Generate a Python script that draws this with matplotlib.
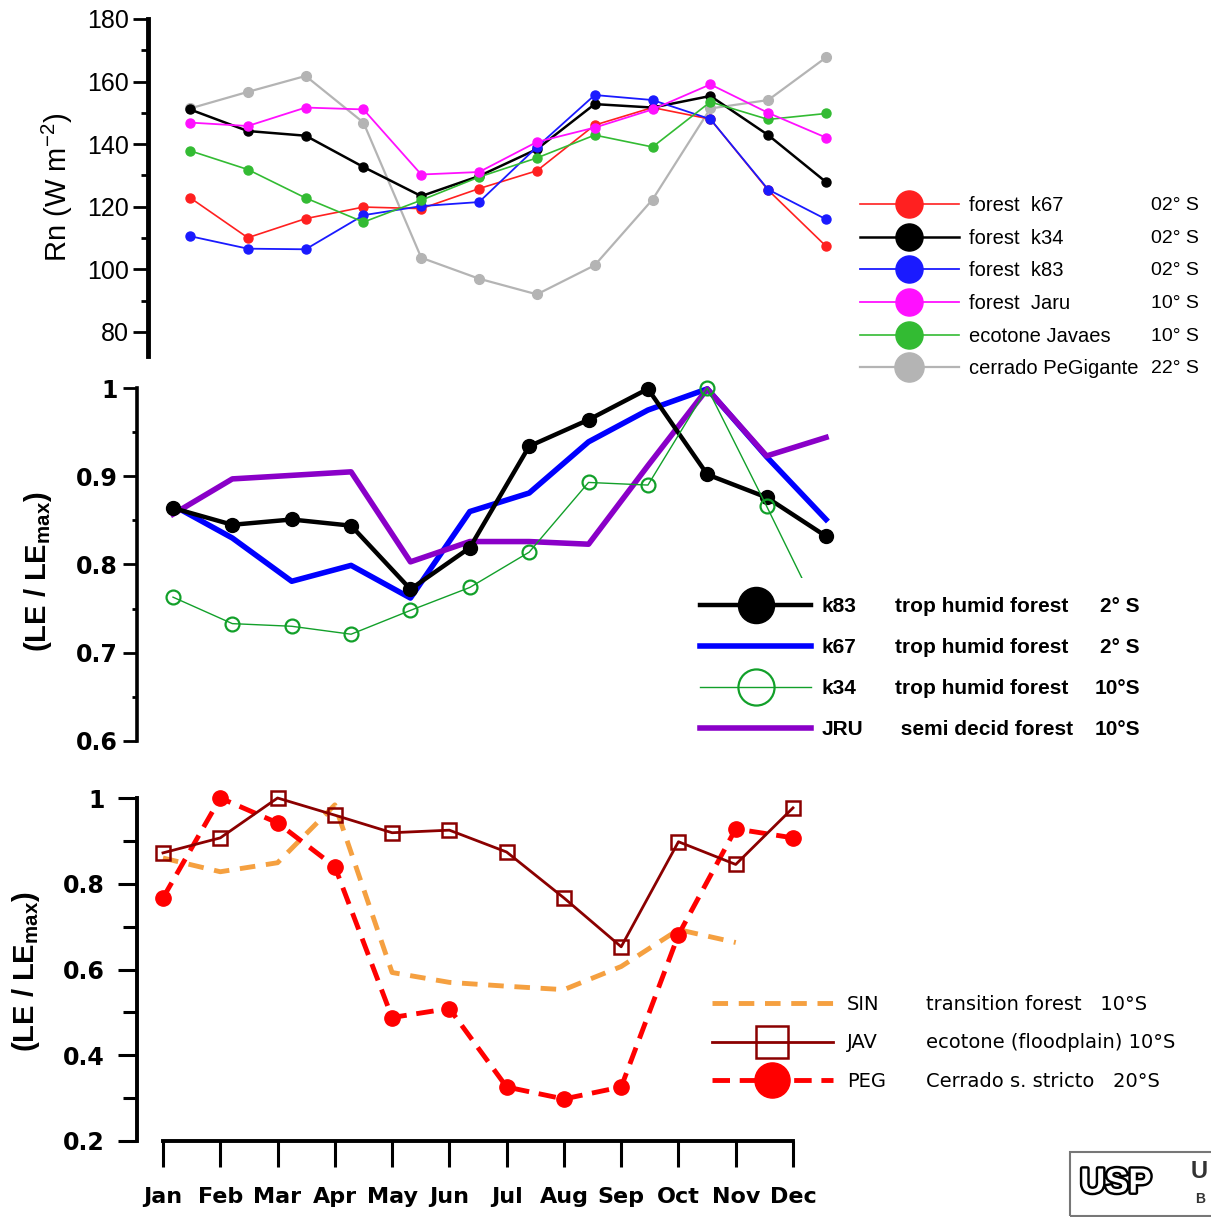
import numpy as np
import matplotlib
matplotlib.use('Agg')
from matplotlib import pyplot as plt
from matplotlib.patches import Rectangle
from matplotlib.ticker import MultipleLocator, FormatStrFormatter
import matplotlib.patheffects as pe

plt.rcParams['font.family'] = ['Liberation Sans', 'DejaVu Sans']
plt.rcParams['mathtext.default'] = 'regular'

months = ['Jan', 'Feb', 'Mar', 'Apr', 'May', 'Jun', 'Jul', 'Aug', 'Sep', 'Oct', 'Nov', 'Dec']
m = np.arange(1, 13)

# top panel, net radiation Rn (W m-2)
rn_k67 = [122.9, 110.1, 116.2, 119.9, 119.4, 125.8, 131.5, 146.1, 151.7, 148.0, 125.3, 107.4]
rn_k34 = [151.1, 144.2, 142.7, 132.7, 123.4, 129.8, 138.4, 152.8, 151.7, 155.4, 142.9, 127.9]
rn_k83 = [110.6, 106.6, 106.4, 117.3, 120.2, 121.5, 139.1, 155.7, 154.1, 148.0, 125.5, 116.0]
rn_jaru = [146.9, 145.8, 151.7, 151.1, 130.3, 131.1, 140.7, 145.3, 151.1, 159.1, 150.0, 142.1]
rn_jav = [137.9, 131.9, 122.8, 115.1, 122.1, 129.5, 135.6, 142.9, 139.1, 153.5, 147.9, 149.8]
rn_peg = [151.4, 156.7, 161.8, 146.9, 103.7, 97.0, 92.0, 101.3, 122.3, 151.4, 154.1, 167.7]
rn_names = ['forest  k67', 'forest  k34', 'forest  k83', 'forest  Jaru', 'ecotone Javaes', 'cerrado PeGigante']
rn_lats = ['02° S', '02° S', '02° S', '10° S', '10° S', '22° S']

# middle panel, LE / LEmax forests
le_k83 = [0.864, 0.845, 0.851, 0.844, 0.772, 0.819, 0.934, 0.964, 0.999, 0.902, 0.876, 0.832]
le_k67 = [0.867, 0.830, 0.781, 0.799, 0.762, 0.860, 0.881, 0.939, 0.975, 0.999, 0.922, 0.851]
le_k34 = [0.763, 0.733, 0.730, 0.721, 0.748, 0.774, 0.814, 0.893, 0.890, 1.000, 0.866, 0.729]
le_jru = [0.857, 0.897, 0.901, 0.905, 0.803, 0.826, 0.826, 0.823, 0.912, 0.999, 0.923, 0.944]
le_codes = ['k83', 'k67', 'k34', 'JRU']
le_desc = ['trop humid forest', 'trop humid forest', 'trop humid forest', ' semi decid forest']
le_lats = ['2° S', '2° S', '10°S', '10°S']

# bottom panel, LE / LEmax transition / ecotone / cerrado
sin = [0.860, 0.828, 0.849, 0.984, 0.593, 0.570, 0.561, 0.553, 0.607, 0.693, 0.663, np.nan]
jav = [0.872, 0.907, 1.000, 0.960, 0.919, 0.925, 0.874, 0.767, 0.653, 0.898, 0.845, 0.977]
peg = [0.767, 1.000, 0.942, 0.840, 0.488, 0.509, 0.326, 0.298, 0.326, 0.681, 0.928, 0.907]
b_codes = ['SIN', 'JAV', 'PEG']
b_desc = ['transition forest   10°S', 'ecotone (floodplain) 10°S', 'Cerrado s. stricto   20°S']

W, H = 1211, 1217
fig = plt.figure(figsize=(W / 100, H / 100), dpi=100)


def box(x0, y0, x1, y1):
    return [x0 / W, 1 - y1 / H, (x1 - x0) / W, (y1 - y0) / H]


def only_left(ax):
    for s in ['top', 'right', 'bottom']:
        ax.spines[s].set_visible(False)
    ax.set_xticks([])


# ---- panel 1
ax1 = fig.add_axes(box(148, 19, 860, 356))
ax1.set_xlim(0.274, 12.588)
ax1.set_ylim(72.3, 180)
only_left(ax1)
ax1.spines['left'].set_linewidth(3.5)
ax1.yaxis.set_major_locator(MultipleLocator(20))
ax1.yaxis.set_minor_locator(MultipleLocator(10))
ax1.tick_params(axis='y', which='major', length=11, width=2, labelsize=18, pad=3)
ax1.tick_params(axis='y', which='minor', length=5, width=2)
ax1.set_ylabel('Rn (W m$^{-2}$)', fontsize=21)
ax1.yaxis.set_label_coords(-0.103, 0.5)

rn_series = [(rn_k67, '#ff2020', 1.2, 6.5), (rn_k34, 'black', 1.8, 6.5), (rn_k83, '#1a1aff', 1.3, 6.5),
             (rn_jaru, '#ff10ff', 1.3, 6.5), (rn_jav, '#33bb33', 1.2, 6.5), (rn_peg, '#b4b4b4', 1.6, 7)]
order = [5, 0, 1, 2, 4, 3]
lines1 = [None] * 6
for i in order:
    vals, c, lw, ms = rn_series[i]
    lines1[i], = ax1.plot(m, vals, '-o', color=c, lw=lw, ms=ms, label=rn_names[i], clip_on=False)
leg1 = ax1.legend(handles=lines1, loc='upper left', bbox_to_anchor=(860 / W, 1 - 196 / H),
                  bbox_transform=fig.transFigure, frameon=False, handlelength=4.9, markerscale=3,
                  fontsize=14.5, labelspacing=0.68, borderpad=0, borderaxespad=0, handletextpad=0.5)

# ---- panel 2
ax2 = fig.add_axes(box(137, 388, 850, 741))
ax2.set_xlim(0.394, 12.404)
ax2.set_ylim(0.6, 1.0)
only_left(ax2)
ax2.spines['left'].set_linewidth(2.6)
ax2.yaxis.set_major_locator(MultipleLocator(0.1))
ax2.yaxis.set_minor_locator(MultipleLocator(0.05))
ax2.yaxis.set_major_formatter(FormatStrFormatter('%g'))
ax2.tick_params(axis='y', which='major', length=10, width=2, labelsize=17, pad=4)
ax2.tick_params(axis='y', which='minor', length=3.5, width=2)
for t in ax2.get_yticklabels():
    t.set_fontfamily('DejaVu Sans')
    t.set_fontweight('bold')
ax2.set_ylabel('(LE / LE$_{max}$)', fontsize=21, fontweight='bold')
ax2.yaxis.set_label_coords(-0.117, 0.479)

l_k67, = ax2.plot(m, le_k67, '-', color='#0000ff', lw=4, clip_on=False)
l_jru, = ax2.plot(m, le_jru, '-', color='#8a00c8', lw=4, clip_on=False)
l_k83, = ax2.plot(m, le_k83, '-o', color='black', lw=3.2, ms=10, clip_on=False)
l_k34, = ax2.plot(m, le_k34, '-o', color='#12a02a', lw=1, ms=10, mfc='none', mew=1.6, clip_on=False)
leg2 = ax2.legend(handles=[l_k83, l_k67, l_k34, l_jru], labels=le_codes, loc='upper left',
                  bbox_to_anchor=(681 / W, 1 - 578 / H), bbox_transform=fig.transFigure,
                  frameon=True, facecolor='white', edgecolor='none', framealpha=1, fancybox=False,
                  handlelength=5.3, markerscale=2.6, borderpad=0.93, borderaxespad=0,
                  handletextpad=0.5, labelspacing=1.05,
                  prop={'family': 'Liberation Sans', 'weight': 'bold', 'size': 15})

# ---- panel 3
ax3 = fig.add_axes(box(137, 798, 830, 1141))
ax3.set_xlim(0.546, 12.646)
ax3.set_ylim(0.2, 1.0)
for s in ['top', 'right']:
    ax3.spines[s].set_visible(False)
ax3.spines['left'].set_linewidth(2.8)
ax3.spines['bottom'].set_linewidth(2.8)
ax3.spines['bottom'].set_bounds(1, 12)
ax3.set_xticks(m)
ax3.set_xticklabels(months)
ax3.yaxis.set_major_locator(MultipleLocator(0.2))
ax3.yaxis.set_minor_locator(MultipleLocator(0.1))
ax3.yaxis.set_major_formatter(FormatStrFormatter('%g'))
ax3.tick_params(axis='y', which='major', length=14, width=2.2, labelsize=17, pad=9)
ax3.tick_params(axis='y', which='minor', length=10, width=2.2)
ax3.tick_params(axis='x', length=19, width=2.2, labelsize=16, pad=14)
for t in ax3.get_yticklabels() + ax3.get_xticklabels():
    t.set_fontfamily('DejaVu Sans')
    t.set_fontweight('bold')
ax3.set_ylabel('(LE / LE$_{max}$)', fontsize=21, fontweight='bold')
ax3.yaxis.set_label_coords(-0.137, 0.493)

l_sin, = ax3.plot(m, sin, '--', color='#f5a040', lw=3.5, dashes=(3.2, 2.2), clip_on=False)
l_peg, = ax3.plot(m, peg, '--o', color='#ff0000', lw=3.5, ms=11, dashes=(3.6, 2.0), clip_on=False)
l_jav, = ax3.plot(m, jav, '-s', color='#8b0000', lw=2, ms=10, mfc='none', mew=1.8, clip_on=False)
leg3 = ax3.legend(handles=[l_sin, l_jav, l_peg], labels=b_codes, loc='upper left',
                  bbox_to_anchor=(712 / W, 1 - 995 / H), bbox_transform=fig.transFigure,
                  frameon=False, handlelength=6.2, markerscale=2.3, borderpad=0, borderaxespad=0,
                  handletextpad=0.75, labelspacing=1.0,
                  prop={'family': 'DejaVu Sans', 'size': 14})

# second / third legend columns, placed on the rows of each legend
fig.canvas.draw()
inv = fig.transFigure.inverted()


def row_y(t):
    bb = t.get_window_extent()
    return inv.transform((0, (bb.y0 + bb.y1) / 2))[1]


for t, lat in zip(leg1.get_texts(), rn_lats):
    fig.text(1199 / W, row_y(t), lat, ha='right', va='center', fontsize=14)
for t, d, lat in zip(leg2.get_texts(), le_desc, le_lats):
    y = row_y(t)
    fig.text(895 / W, y, d, ha='left', va='center', fontsize=15, fontweight='bold')
    fig.text(1140 / W, y, lat, ha='right', va='center', fontsize=15, fontweight='bold')
for t, d in zip(leg3.get_texts(), b_desc):
    fig.text(926 / W, row_y(t), d, ha='left', va='center', fontsize=14, family='DejaVu Sans')

# logo box, bottom right
fig.patches.append(Rectangle((1070 / W, 1 - 1216 / H), 150 / W, 64 / H, transform=fig.transFigure,
                             fill=False, edgecolor='#777777', lw=1.5))
fig.text(1116 / W, 1 - 1183 / H, 'USP', ha='center', va='center', fontsize=25, fontweight='bold',
         color='white', path_effects=[pe.withStroke(linewidth=3.5, foreground='black')])
fig.text(1191 / W, 1 - 1172 / H, 'U', ha='left', va='center', fontsize=17, fontweight='bold', color='#333333')
fig.text(1195 / W, 1 - 1199 / H, 'B', ha='left', va='center', fontsize=10, fontweight='bold', color='#333333')

fig.savefig('out.png', dpi=100)
